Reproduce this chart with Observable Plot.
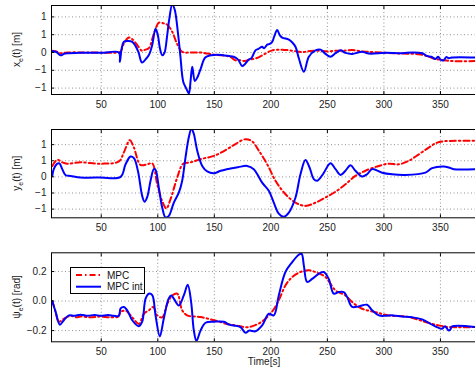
<!DOCTYPE html>
<html><head><meta charset="utf-8">
<script src="https://cdn.jsdelivr.net/npm/d3@7"></script>
<script src="https://cdn.jsdelivr.net/npm/@observablehq/plot@0.6"></script>
<style>
body{margin:0;background:#fff;}
#chart{position:relative;width:475px;height:370px;overflow:hidden;background:#fff;}
#chart svg{position:absolute;left:0;overflow:hidden;}
</style></head><body><div id="chart"></div>
<script>
// ---- data (time [s], value) ----
const timeTicks = [50, 100, 150, 200, 250, 300, 350];
const timeDomain = [6, 381];
const posTicks = [-1, -0.5, 0, 0.5, 1];
const headTicks = [-0.2, 0, 0.2];
const seriesNames = ["MPC", "MPC int"];

const xeMpc = [[6,0.05],[10,0.03],[14,-0.02],[20,0],[40,0],[65,0],[67,0.02],[70,0.25],[74.4,0.42],[78,0.36],[82,0.2],[86,0.05],[89,0.08],[92,0.12],[96.6,0.53],[101,0.84],[105,0.82],[108.4,0.78],[112.8,0.58],[117,0.25],[121.6,0.02],[130,0],[137.8,0],[143.7,-0.03],[150,-0.06],[157,-0.08],[164,-0.12],[168.7,-0.22],[171.4,-0.21],[177,-0.24],[181,-0.2],[186.4,-0.17],[195.3,-0.03],[201.2,0.06],[210,0.08],[218.9,0.05],[227.7,0.01],[235,0.04],[242.5,0.05],[250,0.03],[257.2,0.05],[265,0.05],[272,0.07],[280,0.03],[286.6,0.02],[301.4,-0.01],[316,-0.03],[330.9,-0.05],[339.7,-0.12],[345,-0.18],[351.5,-0.21],[360.3,-0.24],[381,-0.24]];

const xeInt = [[6,0.03],[10,0.02],[14,-0.08],[17,-0.04],[20,-0.02],[30,-0.01],[50,-0.01],[65.6,0],[66.5,-0.26],[68,0.1],[70,0.3],[74,0.32],[77.4,0.3],[80,0.2],[83,0],[86,-0.28],[89,-0.2],[92,-0.08],[95,0.2],[98,0.67],[100,0.5],[102,0.1],[104,-0.08],[106,0.0],[108,0.4],[110,0.9],[112.8,1.35],[115,1.2],[118,0.5],[120,-0.1],[122.5,-0.82],[125,-1.0],[127.5,-1.15],[129,-0.8],[130.5,-0.4],[132.8,-0.8],[135,-0.7],[138,-0.45],[142,-0.14],[147,-0.08],[152.6,-0.06],[158,-0.08],[163,-0.1],[167,-0.12],[171,-0.2],[174.6,-0.38],[177,-0.33],[180.5,-0.2],[183,-0.15],[186.4,0.06],[189,0.1],[192.3,0.16],[194,0.12],[196.8,0.22],[199,0.24],[201.2,0.3],[203,0.45],[205.6,0.63],[208,0.48],[210,0.42],[215.9,0.36],[219,0.28],[221.8,0.16],[224.8,-0.17],[229.2,-0.54],[233.6,-0.12],[239.5,0.06],[244,0.08],[248.3,-0.04],[252.7,-0.12],[257.2,-0.02],[261.6,0.06],[266,-0.01],[271.9,-0.04],[280.7,0.02],[286.6,-0.03],[301.4,-0.01],[316.1,-0.02],[325,0.0],[333.8,-0.02],[338.2,-0.1],[342,-0.12],[345.6,-0.18],[348,-0.12],[350,-0.2],[352.9,-0.22],[355,-0.13],[357.4,-0.16],[360,-0.14],[381,-0.14]];

const yeMpc = [[6.7,0.34],[11.1,0.53],[15.5,0.45],[19.9,0.41],[31.7,0.45],[49.4,0.41],[65.6,0.48],[70,0.76],[75.3,1.14],[78.9,0.91],[84.7,0.37],[90.7,0.39],[95.1,0.42],[99.5,-0.23],[103.9,-0.75],[107.5,-0.98],[111.3,-0.69],[117.2,-0.02],[122.5,0.41],[129,0.45],[137.8,0.55],[149.6,0.65],[161.4,0.86],[168.7,1.02],[177.6,1.17],[183.5,1.1],[189.4,0.81],[196.8,0.39],[204.1,-0.12],[213,-0.54],[221.8,-0.8],[230.6,-0.9],[239.5,-0.8],[248.3,-0.64],[257.2,-0.46],[266,-0.23],[274.8,0.03],[283.7,0.19],[295.5,0.34],[304.3,0.41],[313.2,0.39],[322,0.5],[330.9,0.7],[339.7,0.91],[345.6,1.04],[351.5,1.1],[381,1.12]];

const yeInt = [[6.7,0.03],[8,0.24],[11.1,0.41],[13,0.42],[15.5,0.24],[18.5,0.05],[22.9,0.03],[31.7,-0.02],[49.4,-0.02],[67.1,0],[71.5,0.39],[75.9,0.63],[78.9,0.58],[82.4,0.19],[86.2,-0.59],[88.3,-0.77],[90.7,-0.62],[93.6,-0.12],[96.5,0.24],[98,0.22],[100.9,-0.33],[103.9,-0.95],[106.9,-1.26],[109.8,-1.21],[114.2,-0.8],[118.6,-0.49],[121.6,-0.12],[124.5,0.6],[127.4,1.22],[129.8,1.5],[131.9,1.33],[134.9,0.81],[139.3,0.34],[143.7,0.17],[149.6,0.11],[155.5,0.19],[164.3,0.26],[171,0.3],[179,0.34],[184.9,0.24],[192.3,-0.18],[198.2,-0.43],[202.6,-0.8],[207,-1.14],[211.5,-1.24],[215.9,-1.11],[221.8,-0.64],[226.2,0.08],[230.6,0.52],[234.2,0.29],[238,-0.07],[241,-0.12],[246,0.08],[252.7,0.42],[257.2,0.24],[261.6,0.06],[266,0.19],[270.4,0.36],[274.8,0.19],[280.7,0.01],[285.1,0.08],[289.6,0.24],[298.4,0.13],[307.2,0.08],[319,0.06],[336.7,0.13],[342.6,0.27],[352.9,0.32],[357.4,0.29],[361.8,0.24],[381,0.24]];

const psiMpc = [[6.7,0],[9.5,-0.07],[12.5,-0.14],[16.9,-0.12],[22.9,-0.1],[28,-0.11],[31.7,-0.105],[40,-0.11],[49.4,-0.105],[58,-0.11],[65,-0.105],[67,-0.075],[71.5,-0.065],[77.4,-0.11],[83.3,-0.155],[87.7,-0.086],[92.1,-0.063],[96,-0.04],[99.5,-0.097],[103.9,-0.11],[108.4,-0.018],[112.8,0.038],[117.2,0.05],[121.6,-0.063],[126,-0.097],[137.8,-0.108],[149.6,-0.13],[161.4,-0.155],[168.7,-0.165],[180.5,-0.176],[192.3,-0.138],[201.2,-0.07],[207,0.005],[212.9,0.106],[218.9,0.163],[226.2,0.197],[233.6,0.208],[241,0.192],[248.3,0.163],[257.2,0.072],[266,0.038],[271.9,-0.007],[280.7,-0.052],[292.5,-0.075],[304.3,-0.097],[322,-0.108],[336.7,-0.142],[348.5,-0.165],[357.4,-0.176],[381,-0.176]];

const psiInt = [[6.7,0],[9.7,-0.075],[13.4,-0.16],[16.9,-0.13],[21.4,-0.097],[26,-0.1],[31.7,-0.092],[38,-0.1],[44,-0.094],[49.4,-0.1],[56,-0.095],[61,-0.1],[65.6,-0.1],[67.1,-0.05],[70.1,-0.04],[73,-0.063],[77.4,-0.13],[83.3,-0.17],[86.2,-0.14],[89.2,0.016],[92.1,0.05],[95.1,0.04],[98,-0.097],[101.8,-0.24],[105.3,-0.12],[109.8,0.02],[111.9,0.038],[114.2,0.016],[118.6,-0.03],[123,0.038],[126.5,0.11],[129.5,-0.007],[131.9,-0.2],[134.2,-0.27],[137.8,-0.2],[142.2,-0.147],[149.6,-0.14],[158.5,-0.14],[163,-0.16],[167.3,-0.165],[173.2,-0.176],[177.6,-0.215],[181,-0.2],[186.4,-0.205],[192.3,-0.165],[198.2,-0.086],[202.6,-0.097],[207,0.038],[212.9,0.197],[218.9,0.264],[224.7,0.314],[227.2,0.32],[229.2,0.24],[232.1,0.13],[236.5,0.15],[242.4,0.185],[246.8,0.197],[251.2,0.15],[255.6,0.05],[260.1,0.061],[264.5,0.061],[267.5,0.027],[271.9,-0.04],[277.8,-0.036],[285.1,-0.025],[289.6,-0.063],[295.5,-0.097],[301.4,-0.1],[308,-0.097],[316.1,-0.105],[325,-0.11],[333.8,-0.124],[342.6,-0.16],[348,-0.18],[351.5,-0.188],[354,-0.17],[357.4,-0.2],[359,-0.19],[360.3,-0.172],[381,-0.176]];

// ---- drawing ----
const RED = "#ff0000", BLUE = "#0000ff";
const FONT = "'Liberation Sans', Arial, Helvetica, sans-serif";
const chart = document.getElementById("chart");

function panel({top, height, marginTop, marginBottom, yDomain, yTicks, red, blue, labelMain, labelUnit}) {
  const svg = Plot.plot({
    width: 475, height, marginLeft: 51, marginRight: 0, marginTop, marginBottom,
    style: {fontFamily: FONT, fontSize: "10px", color: "#222", background: "transparent"},
    x: {domain: timeDomain},
    y: {domain: yDomain},
    marks: [
      Plot.gridX(timeTicks, {stroke: "#777", strokeOpacity: 0.8, strokeDasharray: "1,2.5"}),
      Plot.gridY(yTicks, {stroke: "#777", strokeOpacity: 0.8, strokeDasharray: "1,2.5"}),
      Plot.line(red, {x: d => d[0], y: d => d[1], stroke: RED, strokeWidth: 2, strokeDasharray: "6,3,1.5,3", clip: true, curve: "catmull-rom"}),
      Plot.line(blue, {x: d => d[0], y: d => d[1], stroke: BLUE, strokeWidth: 2, clip: true, curve: "catmull-rom"}),
      Plot.axisX(timeTicks, {anchor: "bottom", tickSize: -3, tickPadding: 9, label: null, stroke: "#000", fill: "#222"}),
      Plot.axisX(timeTicks, {anchor: "top", tickSize: -3, label: null, stroke: "#000", fill: "none"}),
      Plot.axisY(yTicks, {anchor: "left", tickSize: -3, tickPadding: 8, label: null, stroke: "#000", fill: "#222"}),
      Plot.frame({stroke: "#000", strokeWidth: 1})
    ]
  });
  svg.style.top = top + "px";
  chart.appendChild(svg);
  const s = d3.select(svg);
  const cy = marginTop + (height - marginTop - marginBottom) / 2;
  const t = s.append("text")
    .attr("transform", `translate(20,${cy}) rotate(-90)`)
    .attr("text-anchor", "middle")
    .attr("font-family", FONT).attr("font-size", 10).attr("fill", "#222");
  t.append("tspan").text(labelMain);
  t.append("tspan").attr("font-size", 7).attr("dy", 3).text("e");
  t.append("tspan").attr("dy", -3).text(labelUnit);
  return s;
}

panel({top: 0, height: 120, marginTop: 5, marginBottom: 26, yDomain: [-1.18, 1.32], yTicks: posTicks,
  red: xeMpc, blue: xeInt, labelMain: "x", labelUnit: "(t) [m]"});
panel({top: 120, height: 125, marginTop: 9, marginBottom: 27.7, yDomain: [-1.27, 1.47], yTicks: posTicks,
  red: yeMpc, blue: yeInt, labelMain: "y", labelUnit: "(t) [m]"});
const p3 = panel({top: 245, height: 125, marginTop: 7.3, marginBottom: 28.7, yDomain: [-0.276, 0.327], yTicks: headTicks,
  red: psiMpc, blue: psiInt, labelMain: "ψ", labelUnit: "(t) [rad]"});

// x label
p3.append("text").attr("x", 264).attr("y", 119.5).attr("text-anchor", "middle")
  .attr("font-family", FONT).attr("font-size", 10).attr("fill", "#222").text("Time[s]");

// legend
const lg = p3.append("g").attr("text-anchor", "start");
lg.append("rect").attr("x", 70.5).attr("y", 22.5).attr("width", 74).attr("height", 26)
  .attr("fill", "#fff").attr("stroke", "#000").attr("stroke-width", 1);
const legendColors = [RED, BLUE];
const legendDash = ["6,3,1.5,3", null];
seriesNames.forEach((name, i) => {
  const y = 30 + i * 11.7;
  lg.append("line").attr("x1", 76).attr("x2", 101).attr("y1", y).attr("y2", y)
    .attr("stroke", legendColors[i]).attr("stroke-width", 2).attr("stroke-dasharray", legendDash[i]);
  lg.append("text").attr("x", 107).attr("y", y).attr("dy", "0.35em").attr("text-anchor", "start")
    .attr("font-family", FONT).attr("font-size", 10).attr("fill", "#111").text(name);
});
</script></body></html>
